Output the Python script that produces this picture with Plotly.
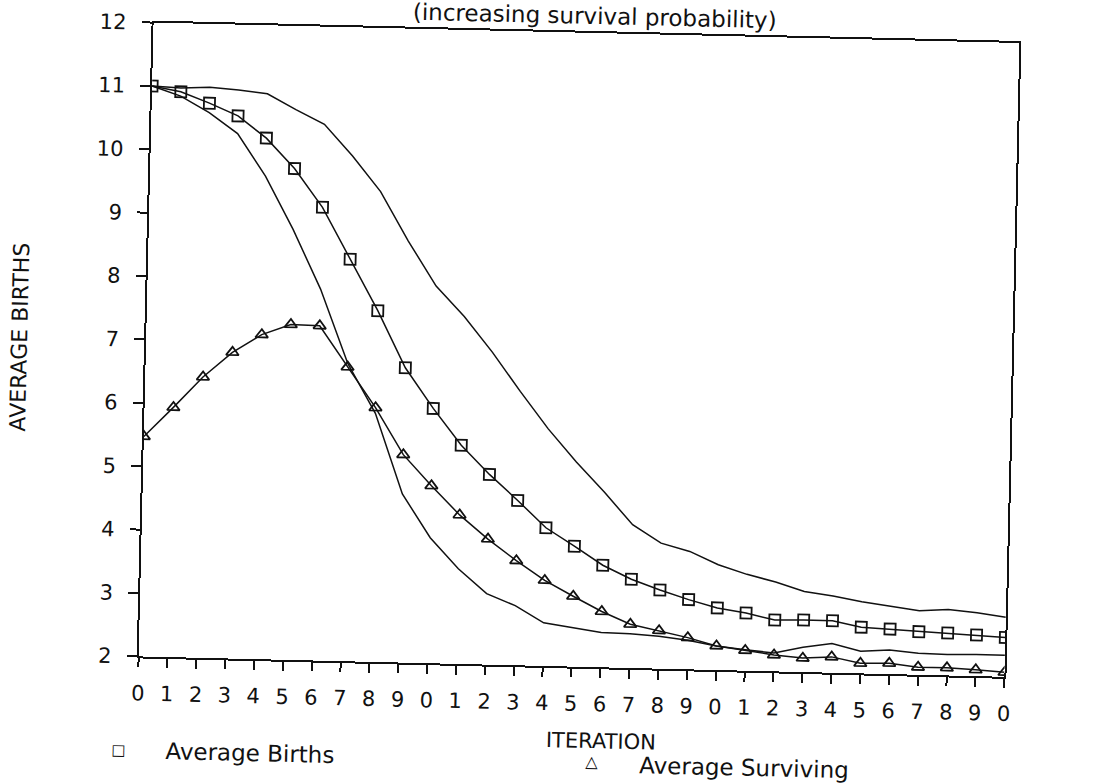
import plotly.graph_objects as go

# Iteration index and the single-digit labels printed under each tick
iterations = list(range(31))
tick_labels = [str(i % 10) for i in iterations]
y_ticks = [2, 3, 4, 5, 6, 7, 8, 9, 10, 11, 12]

# Average births per iteration (square markers)
avg_births = [11.0, 10.92, 10.75, 10.56, 10.22, 9.75, 9.15, 8.34, 7.54, 6.65,
              6.02, 5.45, 5.0, 4.6, 4.18, 3.90, 3.61, 3.40, 3.24, 3.10,
              2.98, 2.91, 2.81, 2.82, 2.82, 2.73, 2.71, 2.68, 2.67, 2.65,
              2.62]

# Average surviving per iteration (triangle markers)
avg_surviving = [5.47, 5.94, 6.43, 6.83, 7.12, 7.29, 7.28, 6.64, 6.01, 5.28,
                 4.80, 4.35, 3.98, 3.65, 3.35, 3.11, 2.88, 2.69, 2.60, 2.50,
                 2.38, 2.32, 2.26, 2.22, 2.25, 2.16, 2.17, 2.12, 2.12, 2.10,
                 2.07]

# Upper and lower envelopes of births (plain lines)
births_upper = [11.0, 10.98, 11.0, 10.97, 10.92, 10.68, 10.46, 9.97, 9.42, 8.65,
                7.95, 7.48, 6.93, 6.32, 5.74, 5.23, 4.76, 4.26, 3.98, 3.86,
                3.66, 3.52, 3.41, 3.27, 3.21, 3.13, 3.07, 3.01, 3.04, 3.0,
                2.94]
births_lower = [11.0, 10.85, 10.60, 10.28, 9.62, 8.79, 7.86, 6.70, 5.92, 4.66,
                3.98, 3.50, 3.12, 2.94, 2.68, 2.62, 2.55, 2.54, 2.51, 2.46,
                2.38, 2.33, 2.29, 2.39, 2.46, 2.35, 2.38, 2.34, 2.33, 2.34,
                2.34]

FONT = "DejaVu Sans"
INK = "#111111"

fig = go.Figure()

fig.add_trace(go.Scatter(x=iterations, y=births_upper, mode="lines",
                         line=dict(color=INK, width=1.5), hoverinfo="skip"))
fig.add_trace(go.Scatter(x=iterations, y=births_lower, mode="lines",
                         line=dict(color=INK, width=1.5), hoverinfo="skip"))
fig.add_trace(go.Scatter(x=iterations, y=avg_births, mode="lines+markers",
                         name="Average Births",
                         line=dict(color=INK, width=1.5),
                         marker=dict(symbol="square-open", size=11,
                                     color=INK, line=dict(width=1.8))))
fig.add_trace(go.Scatter(x=iterations, y=avg_surviving, mode="lines+markers",
                         name="Average Surviving",
                         line=dict(color=INK, width=1.5),
                         marker=dict(symbol="triangle-up-open", size=11,
                                     color=INK, line=dict(width=1.8))))

W, H = 1098, 784
L, R, T, B = 145, 1011, 32, 666


def px(xp):
    return (xp - L) / (R - L)


def py(yp):
    return (B - yp) / (B - T)


annotations = [
    dict(text="(increasing survival probability)", x=px(586), y=py(15),
         font=dict(size=23)),
    dict(text="AVERAGE BIRTHS", x=px(18), y=py(350), textangle=-90,
         font=dict(size=22)),
    dict(text="ITERATION", x=px(609), y=py(740), font=dict(size=21)),
    dict(text="\u25a1", x=px(127), y=py(760), font=dict(size=15)),
    dict(text="Average Births", x=px(172), y=py(760), xanchor="left",
         font=dict(size=23)),
    dict(text="\u25b3", x=px(600), y=py(760), font=dict(size=16)),
    dict(text="Average Surviving", x=px(646), y=py(763), xanchor="left",
         font=dict(size=23)),
]
for a in annotations:
    a.update(xref="paper", yref="paper", showarrow=False)
    a.setdefault("xanchor", "center")
    a["yanchor"] = "middle"
    a["font"].update(family=FONT, color=INK)

fig.update_layout(
    width=W, height=H,
    margin=dict(l=L, r=W - R, t=T, b=H - B),
    paper_bgcolor="white", plot_bgcolor="white",
    showlegend=False,
    font=dict(family=FONT, color=INK, size=21),
    annotations=annotations,
)
fig.update_xaxes(range=[0, 30], tickmode="array", tickvals=iterations,
                 ticktext=tick_labels, ticks="outside", ticklen=9,
                 tickwidth=1.6, tickcolor=INK, showline=True, linecolor=INK,
                 linewidth=1.8, mirror=True, showgrid=False, zeroline=False,
                 ticklabelstandoff=8, tickfont=dict(size=21, family=FONT))
fig.update_yaxes(range=[2, 12], tickmode="array", tickvals=y_ticks,
                 ticks="outside", ticklen=10, tickwidth=1.6, tickcolor=INK,
                 showline=True, linecolor=INK, linewidth=1.8, mirror=True,
                 showgrid=False, zeroline=False, ticklabelstandoff=11,
                 tickfont=dict(size=21, family=FONT))

# The printed sheet sits slightly skewed on the page; turn the whole figure
# by the same small angle around the page centre.
skew = (
    "document.documentElement.style.overflow='hidden';"
    "document.body.style.overflow='hidden';"
    "var gd=document.getElementById('{plot_id}');"
    "gd.style.transformOrigin='549px 392px';"
    "gd.style.transform='rotate(1.35deg)';"
)
fig.write_html("out.html", post_script=skew)
